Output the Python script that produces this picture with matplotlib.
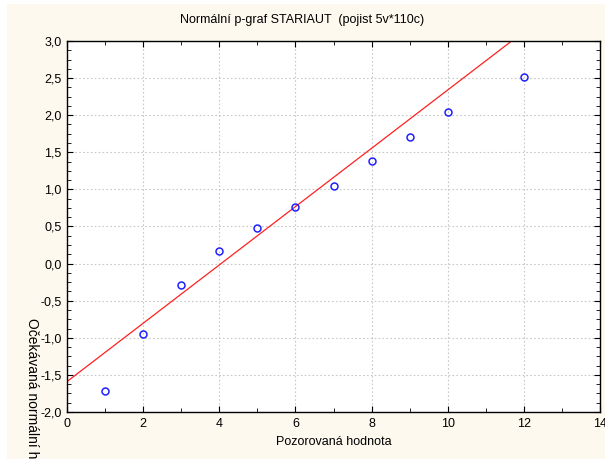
import matplotlib.pyplot as plt
from matplotlib.patches import Rectangle
from matplotlib.ticker import MultipleLocator, FuncFormatter

plt.rcParams['font.family'] = ['Liberation Sans', 'DejaVu Sans']

observed = [1, 2, 3, 4, 5, 6, 7, 8, 9, 10, 12]
expected = [-1.72, -0.95, -0.29, 0.17, 0.48, 0.76, 1.05, 1.38, 1.71, 2.04, 2.51]

# fitted line
intercept = -1.59
slope = 0.393

def main():
	fig = plt.figure(figsize=(6.05, 4.59), dpi=100)
	fig.patch.set_facecolor("white")
	fig.patches.append(Rectangle((7/605, 0), 1, 1 - 4/459, transform=fig.transFigure,
		facecolor="#fdf9ee", edgecolor="none", zorder=-10))

	ax = fig.add_axes([67/605, 1 - 412/459, (600 - 67)/605, (412 - 41)/459])
	ax.set_facecolor("white")

	xs = [0, 14]
	ax.plot(xs, [intercept + slope * x for x in xs], color="#ff2020", lw=0.9)
	ax.plot(observed, expected, "o", mfc="none", mec="#2020ff", mew=1.1, ms=5)

	ax.set_xlim(0, 14)
	ax.set_ylim(-2, 3)
	ax.xaxis.set_major_locator(MultipleLocator(2))
	ax.xaxis.set_minor_locator(MultipleLocator(1))
	ax.yaxis.set_major_locator(MultipleLocator(0.5))
	ax.yaxis.set_minor_locator(MultipleLocator(0.125))
	ax.yaxis.set_major_formatter(FuncFormatter(lambda v, p: ("%.1f" % v).replace(".", ",")))
	ax.grid(True, which="major", color="#c8c8c8", ls=(0, (1.5, 2)), lw=0.8)
	ax.tick_params(which="both", direction="in", top=True, right=True, labelsize=9,
		colors="black", pad=4)
	ax.tick_params(which="major", length=4)
	ax.tick_params(which="minor", length=3)
	for s in ax.spines.values():
		s.set_linewidth(1.0)

	fig.text(0.5, 1 - 20/459, "Normální p-graf STARIAUT  (pojist 5v*110c)", ha="center",
		va="center", fontsize=9)
	fig.text(334/605, 1 - 442/459, "Pozorovaná hodnota", ha="center", va="center", fontsize=9)
	fig.text(32/605, 1 - 318/459, "Očekávaná normální hodnota", ha="center", va="top",
		rotation=270, fontsize=10)

	fig.savefig("out.png", dpi=100, facecolor=fig.get_facecolor())

if __name__ == '__main__':
	main()
